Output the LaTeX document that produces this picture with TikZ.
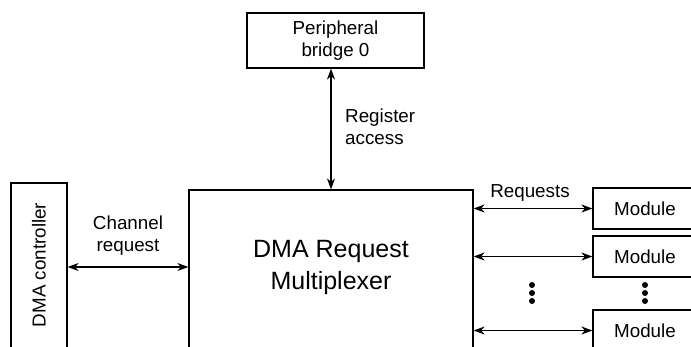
\documentclass[tikz,border=0pt]{standalone}
\usepackage{fontspec}
\setmainfont{Liberation Sans}
\usetikzlibrary{arrows.meta}

\begin{document}
\begin{tikzpicture}[x=1pt,y=-1pt]
    \tikzstyle{block}=[draw=black, line width=1.2pt, inner sep=0pt, align=center, font=\fontsize{18.8}{22}\selectfont]
    \tikzstyle{tag}=[inner sep=0pt, align=center, font=\fontsize{18.8}{22}\selectfont]
    \tikzstyle{link}=[line width=1.2pt, {Stealth[length=11pt,width=8pt,inset=3.5pt]}-{Stealth[length=11pt,width=8pt,inset=3.5pt]}]

    \useasboundingbox (0,0) rectangle (691,346);
    \clip (0,0) rectangle (691,346);

    \node[block, minimum width=177pt, minimum height=55pt] (bridge) at (335.5,40.5) {Peripheral\\bridge 0};
    \node[block, minimum width=284pt, minimum height=210pt] (mux) at (331,295) {};
    \node[tag, font=\fontsize{25}{32}\selectfont] (muxlabel) at (331,267) {DMA Request\\Multiplexer};
    \node[block, minimum width=56pt, minimum height=217pt] (dmac) at (39,291.5) {};
    \node[tag, rotate=90] (dmaclabel) at (39,265) {DMA controller};

    \node[block, minimum width=104pt, minimum height=41pt] (mod1) at (645,208.5) {Module};
    \node[block, minimum width=104pt, minimum height=41pt] (mod2) at (645,256.5) {Module};
    \node[block, minimum width=104pt, minimum height=41pt] (mod3) at (645,330.5) {Module};

    \draw[link] (mux.north) -- (mux.north |- bridge.south);
    \node[tag, align=left, anchor=west] (regacc) at (345,127) {Register\\access};

    \draw[link] (muxlabel -| dmac.east) -- (muxlabel -| mux.west);
    \node[tag] (chreq) at (128,236) {Channel\\request};

    \draw[link] (mod1.west -| mux.east) -- (mod1.west);
    \draw[link] (mod2.west -| mux.east) -- (mod2.west);
    \draw[link] (mod3.west -| mux.east) -- (mod3.west);
    \node[tag] (reqs) at (530,193) {Requests};

    % vertical dots
    \foreach \y in {285,293,301} {
        \fill (532,\y) circle (3pt);
        \fill (645,\y) circle (3pt);
    }
\end{tikzpicture}
\end{document}
